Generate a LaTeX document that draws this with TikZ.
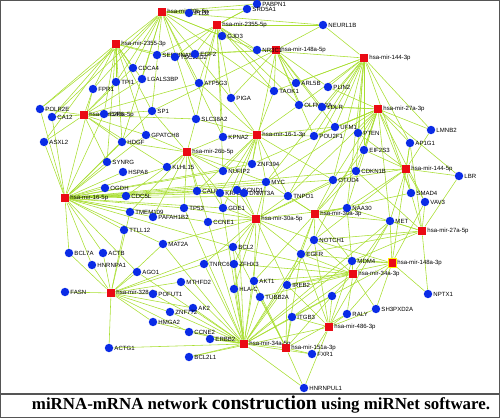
\documentclass[tikz,border=0pt]{standalone}
\usepackage{fontspec}
\setmainfont{Liberation Serif}
\newfontfamily\lblfont{Liberation Sans}
\definecolor{NetBlue}{HTML}{0A2BE6}
\definecolor{NetRed}{HTML}{EA0A14}
\definecolor{NetGreen}{HTML}{A8DE30}
\definecolor{FrameGray}{HTML}{555555}
\pgfdeclarelayer{edges}
\pgfsetlayers{edges,main}

\begin{document}
\begin{tikzpicture}[x=0.025cm, y=-0.025cm,
    gene/.style={circle, fill=NetBlue, minimum size=6pt, inner sep=0pt},
    mirna/.style={rectangle, fill=NetRed, minimum size=6pt, inner sep=0pt},
    lbl/.style={font=\lblfont\fontsize{4.3}{5}\selectfont, inner sep=0.5pt, text=black},
    edge/.style={NetGreen, line width=0.4pt}]
    \useasboundingbox (0,0) rectangle (500,418);

    % Frame and caption strip
    \draw[FrameGray, line width=1pt] (0.5,0.5) rectangle (499.5,417.5);
    \draw[FrameGray, line width=0.8pt] (0,394) -- (500,394);
    \node (caption) at (261,405) {\fontsize{12}{13}\selectfont\bfseries miRNA-mRNA network {\fontsize{14}{15}\selectfont construction} using miRNet software.};

    % miRNAs
    \foreach \n/\x/\y/\t in {m20b/162/12/hsa-mir-20b-5p, m2355f/217/25/hsa-mir-2355-5p,
        m2355t/116/44/hsa-mir-2355-3p, m148f/276/50/hsa-mir-148a-5p, m144t/364/58/hsa-mir-144-3p,
        m146f/84/115/hsa-mir-146a-5p, m27t/378/109/hsa-mir-27a-3p, m161t/257/135/hsa-mir-16-1-3p,
        m26f/187/152/hsa-mir-26b-5p, m144f/406/169/hsa-mir-144-5p, m16f/65/198/hsa-mir-16-5p,
        m30f/256/219/hsa-mir-30a-5p, m30t/315/214/hsa-mir-30a-3p, m27f/422/231/hsa-mir-27a-5p,
        m34t/353/274/hsa-mir-34a-3p, m328/111/293/hsa-mir-328-3p,
        m34f/244/344/hsa-mir-34a-5p, m151t/286/348/hsa-mir-151a-3p, m486t/329/327/hsa-mir-486-3p}
        \node[mirna, label={[lbl]right:\t}] (\n) at (\x,\y) {};
    \node[mirna, draw=yellow, line width=0.4pt, label={[lbl]right:hsa-mir-148a-3p}] (m148t) at (392,263) {};

    % genes
    \foreach \n/\x/\y in {PABPN1/257/4, SRD5A1/247/9, PLD2/189/13, GJD3/222/36, NEURL1B/323/25,
        NR3C1/257/50, SERPINA5/157/55, TSC22D2/175/57, EGF2/195/54, CDCA4/133/68, TPI1/116/82,
        LGALS3BP/142/79, FPR1/93/89, POLR2E/40/109, CA12/52/117, E2F6/104/114, SP1/152/111,
        ATP5G3/199/83, PIGA/231/98, SLC38A2/196/119, ARL5B/296/83, TAOK1/274/91, OLFML2A/299/105,
        LDLR/322/107, PLIN2/328/87, UFM1/335/127, LMNB2/431/130, PTEN/358/133, POU2F1/314/136,
        AP1G1/410/143, EIF2S3/364/150, CDKN1B/356/171, LBR/459/176, OTUD4/333/180, SMAD4/411/193,
        VAV3/425/202, NAA30/347/208, MET/390/221, NOTCH1/314/240, ASXL2/44/142, HDGF/122/142,
        GPATCH8/146/135, SYNRG/107/162, HSPA8/123/172, OGDH/105/188, CDC5L/126/196,
        TMEM109/130/212, PAFAH1B2/153/217, TTLL12/124/230, MAT2A/163/244, KPNA2/223/137,
        KLHL15/167/167, NUFIP2/223/171, ZNF394/252/164, MYC/266/182, CALR/197/191, KRAS/220/193,
        CCND1/237/190, DNMT3A/244/193, TNPO1/288/196, TP53/184/208, GDE1/223/208, CCNE1/208/222,
        BCL2/233/247, TNRC6B/204/264, ZFHX3/234/264, MTHFD2/181/282, AKT1/254/281, IREB2/287/285,
        TUBB2A/260/297, EGFR/301/254, AK2/193/308, ZNF772/170/312, HMGA2/153/322, ITGB3/292/317,
        CCNE2/189/332, ERBB2/210/339, FXR1/312/354, BCL2L1/189/357, BCL7A/69/253, ACTB/103/253,
        HNRNPA1/92/265, AGO1/137/272, FASN/65/292, POFUT1/153/294, ACTG1/109/348,
        HNRNPUL1/304/388, MDM4/352/261, NPTX1/428/294, SH3PXD2A/376/309, RALY/347/314}
        \node[gene, label={[lbl]right:\n}] (\n) at (\x,\y) {};
    \node[gene, label={[lbl]right:HLA-C}] (HLAC) at (234,289) {};
    \node[gene] (UNL) at (332,296) {};

    % miRNA -- target links
    \begin{pgfonlayer}{edges}
    \foreach \s/\l in {
        m20b/{PLD2,SRD5A1,PABPN1,GJD3,FPR1,POLR2E,CA12,TPI1,CDCA4,LGALS3BP,SP1,ATP5G3,PIGA,SLC38A2,TAOK1,NR3C1,KPNA2,HDGF,NEURL1B},
        m2355f/{PABPN1,SRD5A1,GJD3,NEURL1B,NR3C1,SERPINA5,EGF2,TSC22D2,ATP5G3,PIGA,TAOK1,ARL5B,OLFML2A,KPNA2,SLC38A2,NUFIP2},
        m2355t/{POLR2E,CA12,FPR1,TPI1,CDCA4,LGALS3BP,SERPINA5,TSC22D2,E2F6,SP1,HDGF,GPATCH8,SYNRG,ASXL2},
        m148f/{NR3C1,NEURL1B,PLIN2,ARL5B,TAOK1,OLFML2A,LDLR,SERPINA5,EGF2,POU2F1,ZNF394,UFM1,PIGA,SP1},
        m144t/{NEURL1B,PLIN2,LDLR,OLFML2A,UFM1,PTEN,LMNB2,EIF2S3,POU2F1,CDKN1B,OTUD4,TAOK1,ARL5B,NR3C1,AP1G1,MYC,TNPO1,NAA30,SMAD4},
        m146f/{POLR2E,CA12,FPR1,TPI1,E2F6,SP1,CDCA4,LGALS3BP,HDGF,GPATCH8,SYNRG,ASXL2,KLHL15,SLC38A2,ATP5G3},
        m27t/{LMNB2,PTEN,UFM1,LDLR,PLIN2,AP1G1,EIF2S3,CDKN1B,OTUD4,POU2F1,LBR,SMAD4,VAV3,MET,NAA30,TNPO1,MYC,ZNF394,NOTCH1,OLFML2A},
        m161t/{KPNA2,POU2F1,TAOK1,PIGA,ZNF394,NUFIP2,MYC,CCND1,KRAS,CALR,SLC38A2,ATP5G3,UFM1,OTUD4,TNPO1,GDE1,OLFML2A},
        m26f/{KPNA2,KLHL15,NUFIP2,CALR,KRAS,TP53,GPATCH8,SLC38A2,SP1,HDGF,ZNF394,GDE1,CCNE1,PAFAH1B2,TMEM109,CDC5L,MYC},
        m144f/{LBR,AP1G1,SMAD4,VAV3,CDKN1B,EIF2S3,OTUD4,MET,PTEN,LMNB2,NAA30,NOTCH1},
        m16f/{ASXL2,POLR2E,CA12,E2F6,FPR1,SYNRG,HSPA8,OGDH,CDC5L,TMEM109,PAFAH1B2,TTLL12,MAT2A,HDGF,GPATCH8,KLHL15,CALR,KRAS,CCND1,TP53,MYC,BCL2,BCL7A,ACTB,HNRNPA1,AGO1,CCNE1,GDE1,SP1,NUFIP2,ZNF394,TNPO1,OTUD4,CDKN1B},
        m30f/{TNPO1,MYC,CCND1,DNMT3A,GDE1,CCNE1,BCL2,ZFHX3,TNRC6B,AKT1,HLAC,NOTCH1,EGFR,IREB2,TP53,KRAS,NAA30,OTUD4,CDKN1B,MAT2A},
        m30t/{NAA30,NOTCH1,MET,OTUD4,CDKN1B,TNPO1,MYC,EGFR,IREB2,MDM4,SMAD4,EIF2S3,AKT1},
        m27f/{MET,VAV3,SMAD4,LBR,NPTX1,MDM4,NOTCH1,NAA30,EGFR,AP1G1,CDKN1B},
        m148t/{NPTX1,MET,MDM4,SH3PXD2A,VAV3,NOTCH1,EGFR,IREB2,ITGB3,RALY,AP1G1},
        m34t/{MDM4,MET,NOTCH1,EGFR,IREB2,AKT1,BCL2,UNL,RALY,SH3PXD2A,ITGB3,TUBB2A,ZFHX3,NAA30},
        m328/{FASN,BCL7A,ACTB,HNRNPA1,AGO1,POFUT1,HMGA2,ZNF772,ACTG1,MAT2A,MTHFD2,TTLL12,TMEM109,AK2,CCNE2,BCL2,TNRC6B},
        m34f/{ACTG1,BCL2L1,ERBB2,CCNE2,AK2,ZNF772,HMGA2,MTHFD2,HLAC,AKT1,TUBB2A,BCL2,ZFHX3,TNRC6B,ITGB3,IREB2,EGFR,NOTCH1,MET,MDM4,HNRNPUL1,FXR1,POFUT1,AGO1,MYC,CCND1,TP53,CCNE1,KRAS,MAT2A,UNL},
        m151t/{FXR1,ITGB3,IREB2,HNRNPUL1,TUBB2A,AKT1,RALY,EGFR,BCL2,ERBB2,UNL},
        m486t/{RALY,SH3PXD2A,UNL,HNRNPUL1,FXR1,ITGB3,MDM4,EGFR,NOTCH1,IREB2,MET,BCL2L1}}
        \foreach \t in \l
            \draw[edge] (\s) -- (\t);
    \end{pgfonlayer}

\end{tikzpicture}
\end{document}
